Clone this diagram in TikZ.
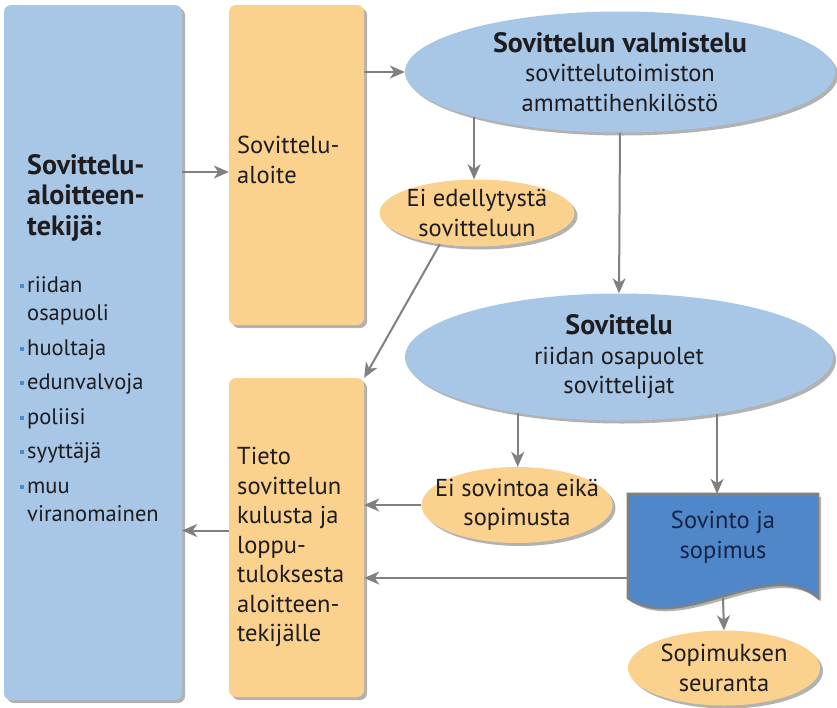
\documentclass[tikz,border=0pt]{standalone}
\usepackage{fontspec}
\setmainfont{PT Sans}
\usetikzlibrary{shapes.geometric,shadows,arrows.meta}
\definecolor{lightblue}{RGB}{168,198,230}
\definecolor{peach}{RGB}{251,209,142}
\definecolor{docblue}{RGB}{80,135,200}
\definecolor{arrowgray}{RGB}{128,128,128}
\definecolor{bulletblue}{RGB}{70,140,210}
\definecolor{navy}{RGB}{20,35,70}
\definecolor{inkblack}{RGB}{30,28,30}
\newcommand{\bul}{\makebox[7pt][l]{\textcolor{bulletblue}{\rule[0.2em]{4pt}{4pt}}}}
\newcommand{\ovalhead}{\bfseries\fontsize{28}{31}\selectfont}
\newcommand{\bodyfont}{\fontsize{24.5}{29.5}\selectfont}
\newcommand{\listfont}{\fontsize{22.5}{28.5}\selectfont}
\tikzset{
  softshadow/.style={drop shadow={shadow xshift=3pt,shadow yshift=-3pt,opacity=0.3,fill=black}},
  bluebox/.style={fill=lightblue,rounded corners=7pt,softshadow},
  peachbox/.style={fill=peach,rounded corners=7pt,softshadow},
  blueoval/.style={ellipse,fill=lightblue,softshadow,inner sep=0pt},
  peachoval/.style={ellipse,fill=peach,softshadow,inner sep=0pt},
  arr/.style={-{Stealth[length=15pt,width=13pt,inset=4.5pt]},draw=arrowgray,line width=2pt},
  txt/.style={align=left,inner sep=0pt,anchor=north west,text=inkblack},
  ovaltxt/.style={align=center,inner sep=0pt,text=inkblack,font=\bodyfont},
}
\begin{document}
\begin{tikzpicture}[x=1pt,y=-1pt]
  \useasboundingbox[fill=white] (0,0) rectangle (837,707);
  % left column
  \node[bluebox,minimum width=178pt,minimum height=695pt] (tekija) at (93,352.5) {};
  \node[txt,font=\bfseries\fontsize{28}{30.5}\selectfont] (tekijahead) at (27,154)
    {Sovittelu-\\aloitteen-\\tekijä:};
  \node[txt,font=\listfont] (tekijalist) at (20,276)
    {\bul riidan\\\hspace{7pt}osapuoli\\[6pt]
     \bul huoltaja\\[6pt]
     \bul edunvalvoja\\[6pt]
     \bul poliisi\\[6pt]
     \bul syyttäjä\\[6pt]
     \bul muu\\\hspace{7pt}viranomainen};
  % middle column
  \node[peachbox,minimum width=135pt,minimum height=320pt] (aloite) at (296.5,165) {};
  \node[txt,font=\bodyfont] (aloitetext) at (237,136) {Sovittelu-\\aloite};
  \node[peachbox,minimum width=135pt,minimum height=319pt] (tieto) at (296.5,537.5) {};
  \node[txt,font=\bodyfont] (tietotext) at (237,447)
    {Tieto\\sovittelun\\kulusta ja\\loppu-\\tuloksesta\\aloitteen-\\tekijälle};
  % right column
  \node[blueoval,minimum width=430pt,minimum height=121pt,
    label={[ovaltxt]center:{{\ovalhead Sovittelun valmistelu}\\sovittelutoimiston\\ammattihenkilöstö}}] (valm) at (620,72) {};
  \node[peachoval,minimum width=195pt,minimum height=67pt,
    label={[ovaltxt]center:{Ei edellytystä\\sovitteluun}}] (eied) at (477,213) {};
  \node[blueoval,minimum width=428pt,minimum height=127pt,
    label={[ovaltxt]center:{{\ovalhead Sovittelu}\\riidan osapuolet\\sovittelijat}}] (sov) at (619,357) {};
  \node[peachoval,minimum width=191pt,minimum height=76pt,
    label={[ovaltxt]center:{Ei sovintoa eikä\\sopimusta}}] (eisov) at (517,505) {};
  \node[minimum width=190pt,minimum height=104pt] (sovinto) at (723,546) {};
  \draw[fill=docblue,draw=arrowgray,line width=2.2pt,softshadow]
    (sovinto.north west) -- (sovinto.north east) -- (sovinto.south east)
    .. controls +(-48,-43) and +(52,37) .. (sovinto.south west) -- cycle;
  \node[ovaltxt,text=navy] (sovintotext) at (723,537) {Sovinto ja\\sopimus};
  \node[peachoval,minimum width=192pt,minimum height=75pt,
    label={[ovaltxt]center:{Sopimuksen\\seuranta}}] (seur) at (724,668) {};
  % arrows
  \coordinate (aloitein) at ([yshift=-7pt]aloite.west);
  \draw[arr] (aloitein -| tekija.east) -- (aloitein);
  \draw[arr] (valm.west -| aloite.east) -- (valm.west);
  \draw[arr] (valm.197) -- (valm.197 |- eied.north);
  \draw[arr] (valm.south) -- (sov.north);
  \draw[arr] (eied.220) -- (tieto.north east);
  \draw[arr] (sov.209) -- (sov.209 |- eisov.north);
  \draw[arr] (sov.330) -- (sov.330 |- sovinto.north);
  \draw[arr] (eisov.west) -- (eisov.west -| tieto.east);
  \coordinate (sovintoout) at ([yshift=-32pt]sovinto.west);
  \draw[arr] (sovintoout) -- (sovintoout -| tieto.east);
  \draw[arr] (sovinto.south) -- (seur.north);
  \coordinate (tietoout) at ([yshift=7pt]tieto.west);
  \draw[arr] (tietoout) -- (tietoout -| tekija.east);
\end{tikzpicture}
\end{document}
